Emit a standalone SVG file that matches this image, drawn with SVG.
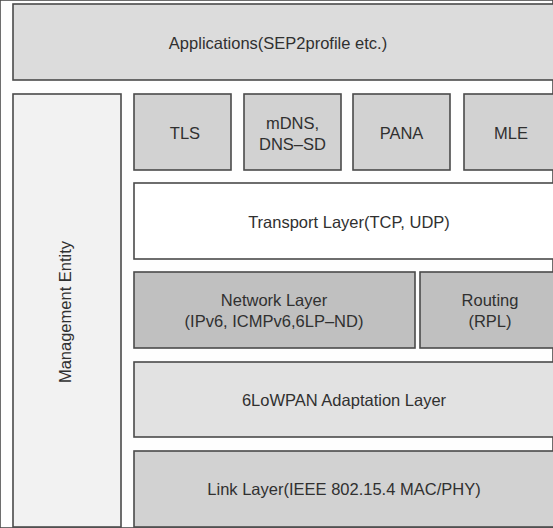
<svg xmlns="http://www.w3.org/2000/svg" width="553" height="528" viewBox="0 0 553 528">
<style>
rect{stroke:#4a4a4a;stroke-width:1.6}
text{font-family:"Liberation Sans",Arial,sans-serif;font-size:16.5px;fill:#303030;text-anchor:middle;dominant-baseline:central}
.a{fill:#dcdcdc}.m{fill:#f2f2f2}.p{fill:#d2d2d2}.w{fill:#ffffff}.n{fill:#c0c0c0}.l{fill:#e2e2e2}
</style>
<rect width="553" height="528" fill="#fefefe" stroke="none"/>
<g id="applications"><rect class="a" x="13" y="4" width="560" height="76"/><text x="278" y="43">Applications(SEP2profile etc.)</text></g>
<g id="management"><rect class="m" x="13" y="94" width="108" height="433"/><text transform="translate(65 312) rotate(-90)">Management Entity</text></g>
<g id="tls"><rect class="p" x="134" y="94" width="97" height="76"/><text x="185" y="133">TLS</text></g>
<g id="mdns"><rect class="p" x="244" y="94" width="97" height="76"/><text x="292.5" y="123">mDNS,</text><text x="292.5" y="144">DNS–SD</text></g>
<g id="pana"><rect class="p" x="353" y="94" width="97" height="76"/><text x="401.5" y="133">PANA</text></g>
<g id="mle"><rect class="p" x="464" y="94" width="100" height="76"/><text x="511" y="133">MLE</text></g>
<g id="transport"><rect class="w" x="134" y="183" width="430" height="76"/><text x="349" y="222">Transport Layer(TCP, UDP)</text></g>
<g id="network"><rect class="n" x="134" y="272" width="281" height="76"/><text x="274" y="300">Network Layer</text><text x="274" y="321">(IPv6, ICMPv6,6LP–ND)</text></g>
<g id="routing"><rect class="n" x="420" y="272" width="150" height="76"/><text x="490" y="300">Routing</text><text x="490" y="321">(RPL)</text></g>
<g id="sixlowpan"><rect class="l" x="134" y="362" width="430" height="75"/><text x="344" y="400">6LoWPAN Adaptation Layer</text></g>
<g id="link"><rect class="p" x="134" y="451" width="430" height="76"/><text x="344" y="489">Link Layer(IEEE 802.15.4 MAC/PHY)</text></g>
<g id="connectors"/>
</svg>
